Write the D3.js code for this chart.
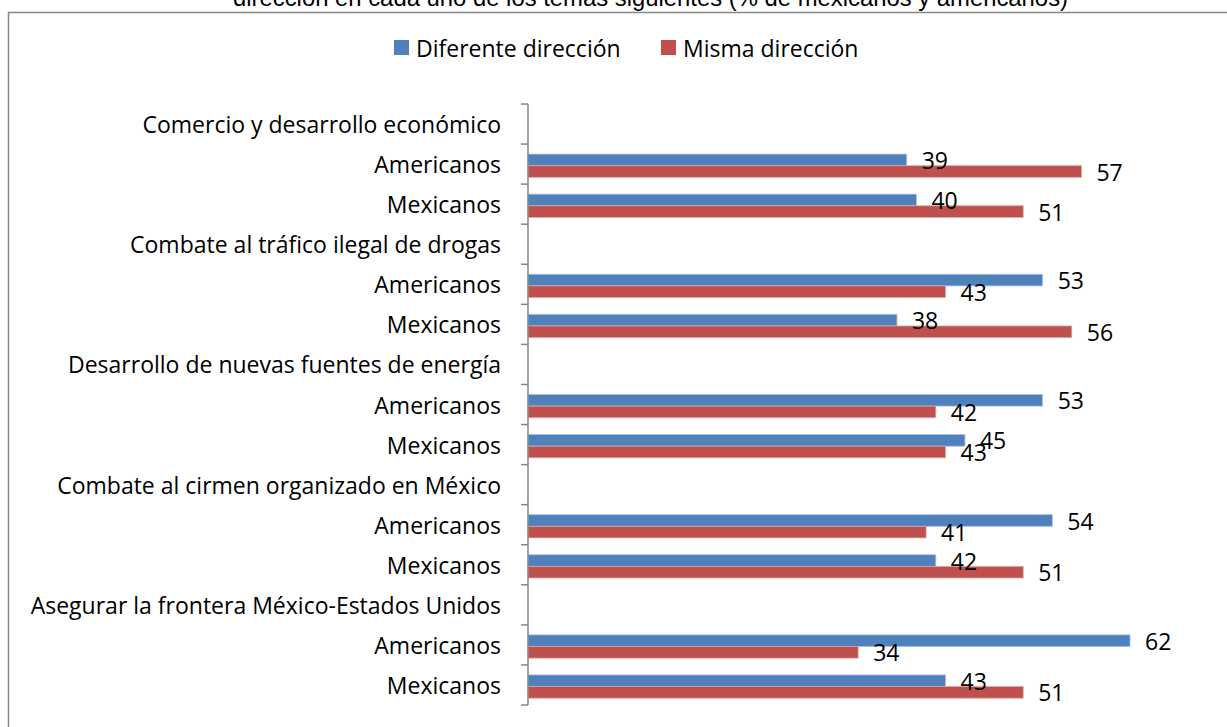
<!DOCTYPE html>
<html>
<head>
<meta charset="utf-8">
<script src="https://cdn.jsdelivr.net/npm/d3@7"></script>
<style>
  body { margin: 0; background: #fff; }
  svg { display: block; }
</style>
</head>
<body>
<svg id="chart"></svg>
<script>
const W = 1227, H = 727

// temas y grupos, de arriba a abajo
const temas = [
  "Comercio y desarrollo económico",
  "Combate al tráfico ilegal de drogas",
  "Desarrollo de nuevas fuentes de energía",
  "Combate al cirmen organizado en México",
  "Asegurar la frontera México-Estados Unidos"
]
const grupos = ["Americanos", "Mexicanos"]
const series = ["Diferente dirección", "Misma dirección"]
const colores = ["#4F81BD", "#C0504D"]

// valores por tema: [Americanos, Mexicanos]
const diferente = [[39, 40], [53, 38], [53, 45], [54, 42], [62, 43]]
const misma     = [[57, 51], [43, 56], [42, 43], [41, 51], [34, 51]]

const titulo = "dirección en cada uno de los temas siguientes (% de mexicanos y americanos)"

const fontChart = "'Open Sans', 'Noto Sans', sans-serif"
const fs = 23

// filas: encabezado de tema + una fila por grupo
const rows = []
temas.forEach((t, i) => {
  rows.push({ id: "t" + i, label: t, header: true })
  grupos.forEach((g, j) => {
    rows.push({ id: "t" + i + "g" + j, label: g, header: false,
      values: [diferente[i][j], misma[i][j]] })
  })
})

const svg = d3.select("#chart").attr("width", W).attr("height", H)

// titulo recortado arriba
svg.append("text")
  .attr("x", 233).attr("y", 6)
  .attr("font-family", "'Liberation Sans', Arial, sans-serif")
  .attr("font-size", 23)
  .attr("textLength", 835)
  .attr("lengthAdjust", "spacingAndGlyphs")
  .attr("fill", "#000")
  .text(titulo)

// marco del gráfico
svg.append("path")
  .attr("d", `M8.5,${H + 2}V12.5H${W + 2}`)
  .attr("fill", "none")
  .attr("stroke", "#888")
  .attr("stroke-width", 1.5)

const x0 = 528
const x = d3.scaleLinear().domain([0, 62]).range([x0, x0 + 62 * 9.71])
const y = d3.scaleBand().domain(rows.map(d => d.id)).range([104, 705])
const bw = y.bandwidth()
const ySub = d3.scaleBand().domain(series).range([bw * 0.25, bw * 0.83])

// leyenda
const leg = svg.append("g")
const legX = [394, 661]
series.forEach((s, i) => {
  leg.append("rect")
    .attr("x", legX[i]).attr("y", 40)
    .attr("width", 15).attr("height", 15)
    .attr("fill", colores[i])
  leg.append("text")
    .attr("x", legX[i] + 22).attr("y", 49)
    .attr("dy", "0.35em")
    .attr("font-family", fontChart)
    .attr("font-size", fs)
    .text(s)
})

// barras
const rowG = svg.selectAll("g.row")
  .data(rows.filter(d => !d.header))
  .join("g")
  .attr("class", "row")
  .attr("transform", d => `translate(0,${y(d.id)})`)

rowG.selectAll("rect")
  .data(d => d.values.map((v, i) => ({ s: series[i], v, i })))
  .join("rect")
  .attr("x", x(0))
  .attr("y", d => ySub(d.s))
  .attr("width", d => x(d.v) - x(0))
  .attr("height", ySub.bandwidth())
  .attr("fill", d => colores[d.i])
  .attr("stroke", d => d.i === 0 ? "#a9c0dd" : "#dca5a4")
  .attr("stroke-width", 0.8)

rowG.selectAll("text")
  .data(d => d.values.map((v, i) => ({ s: series[i], v, i })))
  .join("text")
  .attr("x", d => x(d.v) + 15)
  .attr("y", d => ySub(d.s) + ySub.bandwidth() / 2 + 1)
  .attr("dy", "0.35em")
  .attr("font-family", fontChart)
  .attr("font-size", fs)
  .text(d => d.v)

// etiquetas de categoría
svg.append("g").selectAll("text")
  .data(rows)
  .join("text")
  .attr("x", 501)
  .attr("y", d => y(d.id) + bw / 2 + 1)
  .attr("dy", "0.35em")
  .attr("text-anchor", "end")
  .attr("font-family", fontChart)
  .attr("font-size", fs)
  .text(d => d.label)

// eje vertical con marcas entre categorías
const axis = svg.append("g").attr("stroke", "#868686").attr("stroke-width", 1.5)
axis.append("line")
  .attr("x1", x0).attr("x2", x0)
  .attr("y1", y.range()[0]).attr("y2", y.range()[1])
const bounds = rows.map(d => y(d.id)).concat([y.range()[1]])
axis.selectAll("line.tick")
  .data(bounds)
  .join("line")
  .attr("class", "tick")
  .attr("x1", x0 - 7).attr("x2", x0)
  .attr("y1", d => d).attr("y2", d => d)
</script>
</body>
</html>
